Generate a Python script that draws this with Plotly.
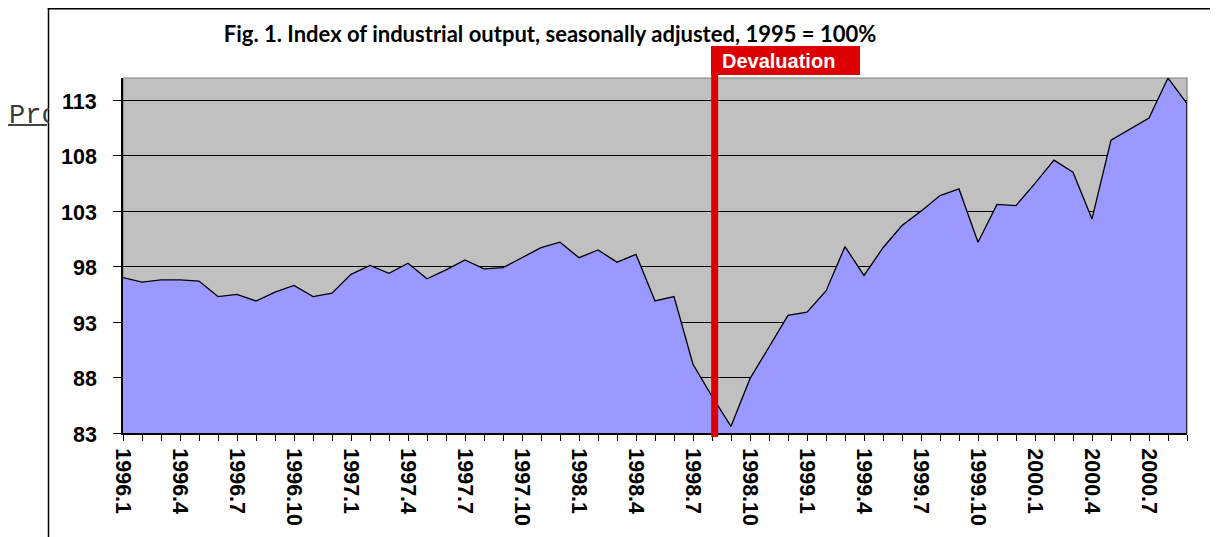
import plotly.graph_objects as go

# ---- data ----
years = [1996, 1997, 1998, 1999, 2000]
categories = [f"{y}.{m}" for y in years for m in range(1, 13)][:57]  # 1996.1 .. 2000.9
values = [
    97.0, 96.6, 96.8, 96.8, 96.7, 95.3, 95.5, 94.9, 95.7, 96.3, 95.3, 95.6,   # 1996
    97.3, 98.1, 97.4, 98.3, 96.9, 97.7, 98.6, 97.8, 97.9, 98.8, 99.7, 100.2,  # 1997
    98.8, 99.5, 98.4, 99.1, 94.9, 95.3, 89.2, 86.3, 83.6, 87.9, 90.8, 93.6,   # 1998
    93.9, 95.8, 99.8, 97.2, 99.7, 101.7, 103.0, 104.4, 105.0, 100.2, 103.6, 103.5,  # 1999
    105.5, 107.6, 106.5, 102.3, 109.4, 110.4, 111.4, 115.0, 112.7,          # 2000
]
labeled_ticks = categories[::3]
y_ticks = [83, 88, 93, 98, 103, 108, 113]
title_text = "Fig. 1. Index of industrial output, seasonally adjusted, 1995 = 100%"
event_label = "Devaluation"
event_category = "1998.8"

W, H = 1210, 529
ML, MR, MT, MB = 115, 31, 70, 104

ticktext = [c if c in labeled_ticks else "" for c in categories]
ev_idx = categories.index(event_category)
ev_x = ev_idx + 0.14

fig = go.Figure()
fig.add_trace(go.Scatter(
    x=categories, y=values, mode="lines", fill="tozeroy",
    fillcolor="#9999FF", line=dict(color="black", width=1.3),
    hoverinfo="x+y", showlegend=False,
))

RED = "#DD0000"
shapes = [
    # plot-area border (gray)
    dict(type="rect", xref="paper", yref="paper", x0=0, x1=1, y0=0, y1=1,
         line=dict(color="#808080", width=1.2), layer="below"),
    # right edge of area
    dict(type="line", xref="x", yref="y", x0=len(categories) - 1, x1=len(categories) - 1,
         y0=y_ticks[0], y1=values[-1], line=dict(color="black", width=1.5)),
    # devaluation line
    dict(type="line", xref="x", x0=ev_x, x1=ev_x, yref="paper", ysizemode="pixel",
         yanchor=0, y0=-4, y1=358, line=dict(color=RED, width=7)),
    # devaluation box
    dict(type="rect", xref="x", xsizemode="pixel", xanchor=ev_idx, x0=-1, x1=148,
         yref="paper", ysizemode="pixel", yanchor=1, y0=3, y1=32,
         fillcolor=RED, line=dict(width=0)),
    # outer chart frame
    dict(type="line", xref="paper", xsizemode="pixel", xanchor=0, x0=-74.5, x1=-74.5,
         yref="paper", ysizemode="pixel", yanchor=1, y0=70, y1=-700,
         line=dict(color="black", width=1.5)),
    dict(type="line", xref="paper", xsizemode="pixel", xanchor=0, x0=-75.2, x1=1300,
         yref="paper", ysizemode="pixel", yanchor=1, y0=69.3, y1=69.3,
         line=dict(color="black", width=1.5)),
    # underline of background link text
    dict(type="line", xref="paper", xsizemode="pixel", xanchor=0, x0=-115, x1=-76,
         yref="paper", ysizemode="pixel", yanchor=1, y0=-47, y1=-47,
         line=dict(color="#444444", width=2)),
]

tick_font = dict(family="Liberation Sans", size=21.5, color="black", weight="bold")

annotations = [
    dict(text=event_label, xref="x", x=ev_idx, xanchor="left", xshift=8,
         yref="paper", y=1, yanchor="middle", yshift=17.5, showarrow=False,
         font=dict(family="Liberation Sans", size=20, color="white", weight="bold")),
    dict(text="Pro", xref="paper", x=0, xanchor="left", xshift=-115,
         yref="paper", y=1, yanchor="middle", yshift=-38, showarrow=False,
         width=40, align="left", borderpad=0,
         font=dict(family="Liberation Mono", size=27, color="#3a3a3a")),
]
# y-axis value labels
for v in y_ticks:
    annotations.append(dict(
        text=str(v), xref="paper", x=0, xanchor="right", xshift=-25,
        yref="y", y=v, yanchor="middle", yshift=-1.5, showarrow=False,
        borderpad=0, font=tick_font,
    ))

fig.update_layout(
    width=W, height=H,
    margin=dict(l=ML, r=MR, t=MT, b=MB),
    paper_bgcolor="white", plot_bgcolor="#C0C0C0",
    title=dict(text=title_text, xref="container", x=542 / W, xanchor="center",
               yref="container", y=1 - 26 / H, yanchor="middle",
               font=dict(family="Lato", size=22, color="black", weight="bold")),
    shapes=shapes, annotations=annotations,
    xaxis=dict(type="category", range=[0, len(categories) - 1],
               tickmode="array", tickvals=categories, ticktext=ticktext,
               tickangle=90, ticks="outside", ticklen=6, tickwidth=1.3, tickcolor="black",
               ticklabelstandoff=3, tickfont=tick_font,
               showline=True, linecolor="black", linewidth=2, showgrid=False, zeroline=False),
    yaxis=dict(range=[y_ticks[0], 115], tickmode="array", tickvals=y_ticks,
               ticks="outside", ticklen=8, tickwidth=1.3, tickcolor="black",
               showticklabels=False,
               showline=True, linecolor="black", linewidth=2,
               showgrid=True, gridcolor="black", gridwidth=1, zeroline=False),
)

fig.write_html("out.html")
